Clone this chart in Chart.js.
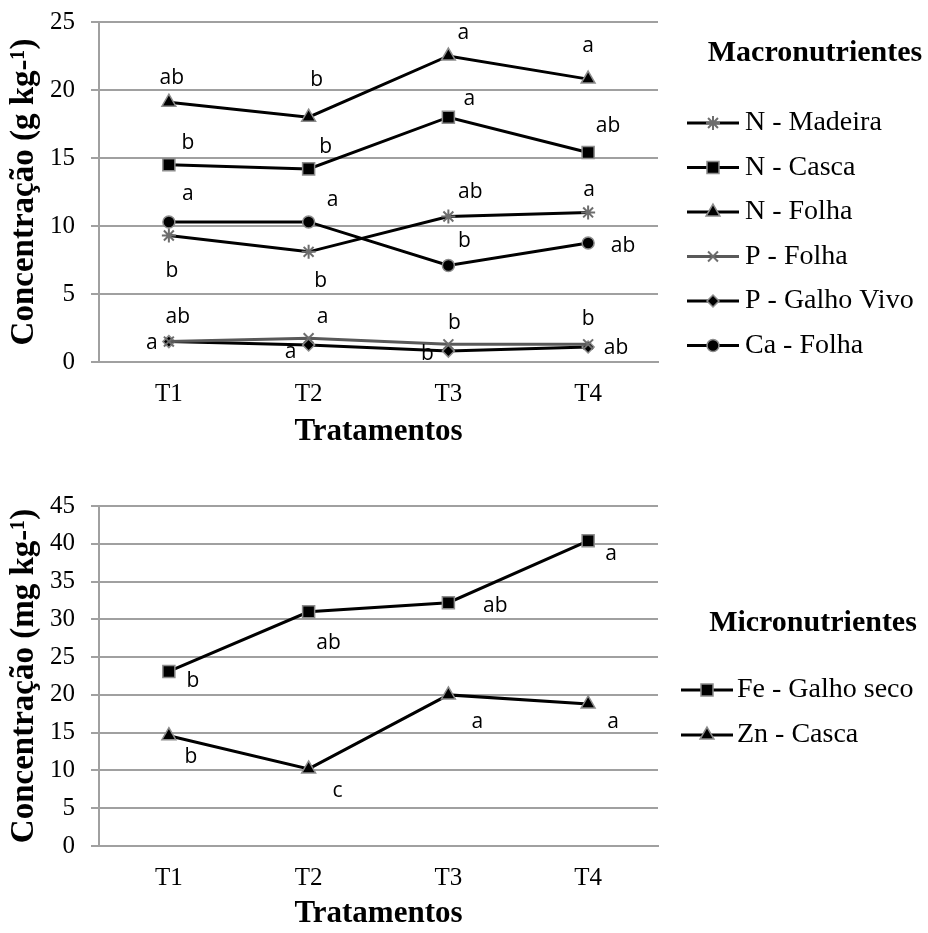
<!DOCTYPE html>
<html>
<head>
<meta charset="utf-8">
<script src="https://cdn.jsdelivr.net/npm/chart.js@4.4.0/dist/chart.umd.min.js"></script>
<style>
  html, body { margin: 0; padding: 0; background: #fff; overflow: hidden; }
  #wrap { position: relative; width: 928px; height: 933px; overflow: hidden; }
  .box { position: absolute; left: 0; width: 928px; }
</style>
</head>
<body>
<div id="wrap">
  <div class="box" style="top:-9px;height:474px"><canvas id="macroChart"></canvas></div>
  <div class="box" style="top:465px;height:468px"><canvas id="microChart"></canvas></div>
</div>
<script>
// Data
const treatments = ['T1', 'T2', 'T3', 'T4']
const macroTicks = [0, 5, 10, 15, 20, 25]
const microTicks = [0, 5, 10, 15, 20, 25, 30, 35, 40, 45]

const nMadeira = [9.3, 8.1, 10.7, 11.0]
const nCasca = [14.5, 14.2, 18.0, 15.4]
const nFolha = [19.1, 18.0, 22.5, 20.8]
const pFolha = [1.5, 1.75, 1.3, 1.3]
const pGalhoVivo = [1.5, 1.25, 0.8, 1.1]
const caFolha = [10.3, 10.3, 7.1, 8.75]

const feGalhoSeco = [23.1, 31.0, 32.2, 40.4]
const znCasca = [14.6, 10.2, 20.0, 18.8]

// letras do teste de médias
const nMadeiraLetters = ['b', 'b', 'ab', 'a']
const nCascaLetters = ['b', 'b', 'a', 'ab']
const nFolhaLetters = ['ab', 'b', 'a', 'a']
const pFolhaLetters = ['ab', 'a', 'b', 'b']
const pGalhoVivoLetters = ['a', 'a', 'b', 'ab']
const caFolhaLetters = ['a', 'a', 'b', 'ab']
const feLetters = ['b', 'ab', 'ab', 'a']
const znLetters = ['b', 'c', 'a', 'a']

// where each letter sits relative to its point (px)
const letterPos = {
  nMadeira: [[3, 35], [12, 29], [22, -24], [1, -22]],
  nCasca: [[19, -22], [17, -22], [21, -18], [20, -27]],
  nFolha: [[3, -24], [8, -37], [15, -23], [0, -33]],
  pFolha: [[9, -25], [14, -21], [6, -21], [0, -25]],
  pGalhoVivo: [[-17, 1], [-18, 7], [-21, 3], [28, 1]],
  caFolha: [[19, -28], [24, -22], [16, -24], [35, 3]],
  fe: [[24, 10], [20, 31], [47, 3], [23, 13]],
  zn: [[22, 21], [29, 22], [29, 27], [25, 18]]
}

const SERIF = '"Liberation Serif", "Times New Roman", serif'
const GRID = '#a0a0a0'
const MARK_EDGE = '#8c8c8c'

function series(label, data, letters, offsets, pointStyle, radius, opts = {}) {
  return {
    label, data, letters, offsets, pointStyle,
    pointRadius: radius,
    pointHoverRadius: radius,
    borderColor: opts.line || '#000',
    borderWidth: 3,
    pointBackgroundColor: opts.fill || '#000',
    pointBorderColor: opts.edge || MARK_EDGE,
    pointBorderWidth: opts.edgeWidth || 1.5,
    tension: 0,
    fill: false
  }
}

const letterPlugin = {
  id: 'letters',
  afterDatasetsDraw(chart) {
    const ctx = chart.ctx
    ctx.save()
    ctx.fillStyle = '#000'
    ctx.font = '21px "Open Sans", sans-serif'
    ctx.textAlign = 'center'
    ctx.textBaseline = 'middle'
    chart.data.datasets.forEach((ds, i) => {
      chart.getDatasetMeta(i).data.forEach((pt, j) => {
        const [dx, dy] = ds.offsets[j]
        ctx.fillText(ds.letters[j], pt.x + dx, pt.y + dy)
      })
    })
    ctx.restore()
  }
}

const sideLegend = {
  id: 'sideLegend',
  afterDraw(chart, args, o) {
    const ctx = chart.ctx
    ctx.save()
    ctx.fillStyle = '#000'
    ctx.textBaseline = 'middle'
    ctx.textAlign = 'center'
    ctx.font = 'bold 30px ' + SERIF
    ctx.fillText(o.title, o.titleX, o.titleY)
    ctx.textAlign = 'left'
    chart.data.datasets.forEach((ds, i) => {
      const y = o.firstRow + i * o.rowGap
      ctx.strokeStyle = ds.borderColor
      ctx.lineWidth = 3
      ctx.beginPath()
      ctx.moveTo(o.lineX0, y)
      ctx.lineTo(o.lineX1, y)
      ctx.stroke()
      ctx.fillStyle = ds.pointBackgroundColor
      ctx.strokeStyle = ds.pointBorderColor
      ctx.lineWidth = ds.pointBorderWidth
      Chart.helpers.drawPoint(ctx, { pointStyle: ds.pointStyle, radius: ds.pointRadius, rotation: 0, borderWidth: ds.pointBorderWidth }, (o.lineX0 + o.lineX1) / 2, y)
      ctx.fillStyle = '#000'
      ctx.font = '28px ' + SERIF
      ctx.fillText(ds.label, o.textX, y)
    })
    ctx.restore()
  }
}

function yAxis(ticks, title) {
  return {
    min: ticks[0],
    max: ticks[ticks.length - 1],
    afterBuildTicks(s) { s.ticks = ticks.map(v => ({ value: v })) },
    ticks: { color: '#000', font: { family: SERIF, size: 25 }, padding: 16 },
    grid: { color: GRID, lineWidth: 2, tickLength: 8 },
    border: { color: GRID, width: 2 },
    title: { display: true, text: title, color: '#000', font: { family: SERIF, size: 33, weight: 'bold' }, padding: { top: 5, bottom: 0 } },
    afterFit(s) { s.width = 99 }
  }
}

function xAxis(height, titlePad) {
  return {
    type: 'category',
    offset: true,
    grid: { display: false, drawTicks: false },
    border: { color: GRID, width: 2 },
    ticks: { color: '#000', font: { family: SERIF, size: 25 }, padding: 17 },
    title: { display: true, text: 'Tratamentos', color: '#000', font: { family: SERIF, size: 31, weight: 'bold' }, padding: { top: 0, bottom: titlePad } },
    afterFit(s) { s.height = height }
  }
}

function makeChart(id, datasets, yTicks, yTitle, layoutPad, xHeight, titlePad, legendOpts) {
  return new Chart(document.getElementById(id), {
    type: 'line',
    data: { labels: treatments, datasets },
    options: {
      responsive: true,
      maintainAspectRatio: false,
      animation: false,
      layout: { padding: layoutPad },
      plugins: { legend: { display: false }, tooltip: { enabled: false }, sideLegend: legendOpts },
      scales: { x: xAxis(xHeight, titlePad), y: yAxis(yTicks, yTitle) }
    },
    plugins: [letterPlugin, sideLegend]
  })
}

const macroSets = [
  series('N - Madeira', nMadeira, nMadeiraLetters, letterPos.nMadeira, 'star', 7, { edge: '#6e6e6e', edgeWidth: 2 }),
  series('N - Casca', nCasca, nCascaLetters, letterPos.nCasca, 'rect', 8.5),
  series('N - Folha', nFolha, nFolhaLetters, letterPos.nFolha, 'triangle', 8),
  series('P - Folha', pFolha, pFolhaLetters, letterPos.pFolha, 'crossRot', 7, { line: '#595959', edge: '#6e6e6e', edgeWidth: 2 }),
  series('P - Galho Vivo', pGalhoVivo, pGalhoVivoLetters, letterPos.pGalhoVivo, 'rectRot', 6),
  series('Ca - Folha', caFolha, caFolhaLetters, letterPos.caFolha, 'circle', 6)
]

const microSets = [
  series('Fe - Galho seco', feGalhoSeco, feLetters, letterPos.fe, 'rect', 8.5),
  series('Zn - Casca', znCasca, znLetters, letterPos.zn, 'triangle', 8)
]

// top canvas starts 9px above the page, so the legend rows are shifted by 9
makeChart('macroChart', macroSets, macroTicks, 'Concentração (g kg-¹)',
  { top: 31, right: 270, left: 0, bottom: 0 }, 103, 14,
  { title: 'Macronutrientes', titleX: 815, titleY: 62, firstRow: 132, rowGap: 44.5, lineX0: 687, lineX1: 739, textX: 745 })

makeChart('microChart', microSets, microTicks, 'Concentração (mg kg-¹)',
  { top: 41, right: 270, left: 0, bottom: 0 }, 87, 0,
  { title: 'Micronutrientes', titleX: 813, titleY: 158, firstRow: 225, rowGap: 45, lineX0: 681, lineX1: 733, textX: 737 })
</script>
</body>
</html>
